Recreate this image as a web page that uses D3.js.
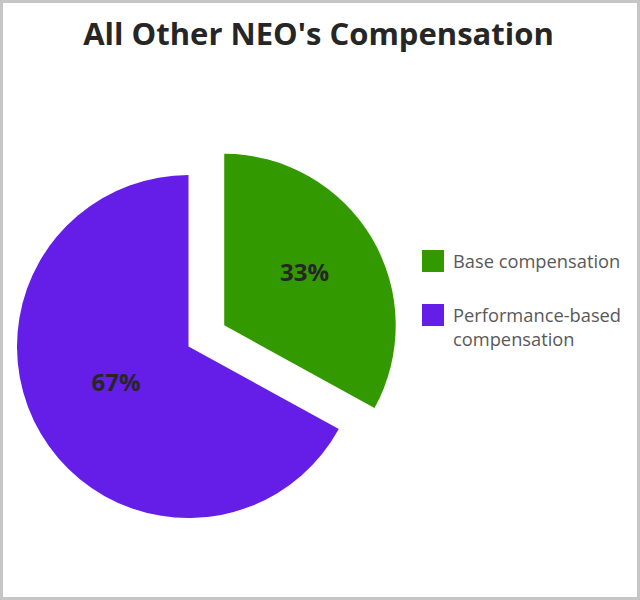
<!DOCTYPE html>
<html>
<head>
<meta charset="utf-8">
<script src="https://cdn.jsdelivr.net/npm/d3@7"></script>
<style>
  html, body { margin: 0; padding: 0; background: #fff; }
  svg { display: block; }
</style>
</head>
<body>
<script>
const title = "All Other NEO's Compensation";
const categories = ["Base compensation", "Performance-based compensation"];
const legendLines = [["Base compensation"], ["Performance-based", "compensation"]];
const values = [33, 67];
const labels = ["33%", "67%"];
const colors = ["#339900", "#651ee8"];

const W = 640, H = 600;
const svg = d3.select("body").append("svg").attr("width", W).attr("height", H);

// outer border
svg.append("rect").attr("x", 1.5).attr("y", 1.5).attr("width", W - 3).attr("height", H - 3)
  .attr("fill", "#fff").attr("stroke", "#c6c6c6").attr("stroke-width", 3);

svg.append("text").attr("x", 318.5).attr("y", 44.5).attr("text-anchor", "middle")
  .attr("font-family", "'Open Sans', sans-serif").attr("font-weight", "bold")
  .attr("font-size", 31).attr("fill", "#262626").text(title);

const cx = 188.5, cy = 346.5, R = 171.5;
const explode = [41.5, 0];
const labelR = [96.5, 80.7];
const labelShift = [-3 * Math.PI / 180, 4.5 * Math.PI / 180];

const pie = d3.pie().sort(null).value(d => d).startAngle(0).endAngle(2 * Math.PI);
const arcs = pie(values);
const arc = d3.arc().innerRadius(0).outerRadius(R);

const g = svg.append("g").attr("transform", `translate(${cx},${cy})`);
arcs.forEach((a, i) => {
  const mid = (a.startAngle + a.endAngle) / 2;
  const dx = Math.sin(mid) * explode[i], dy = -Math.cos(mid) * explode[i];
  const sg = g.append("g").attr("transform", `translate(${dx},${dy})`);
  sg.append("path").attr("d", arc(a)).attr("fill", colors[i]);
  const la = mid + labelShift[i];
  const lx = Math.sin(la) * labelR[i], ly = -Math.cos(la) * labelR[i];
  sg.append("text").attr("x", lx).attr("y", ly).attr("dy", "0.36em")
    .attr("text-anchor", "middle")
    .attr("font-family", "'Open Sans', sans-serif").attr("font-weight", "bold")
    .attr("font-size", 24).attr("fill", "#262626").text(labels[i]);
});

// legend
const leg = svg.append("g");
const legY = [250, 304];
categories.forEach((c, i) => {
  leg.append("rect").attr("x", 422).attr("y", legY[i]).attr("width", 22).attr("height", 22)
    .attr("fill", colors[i]);
  const t = leg.append("text").attr("x", 453).attr("y", legY[i] + 18)
    .attr("font-family", "'Open Sans', sans-serif").attr("font-size", 18.3).attr("fill", "#595959");
  legendLines[i].forEach((line, j) => {
    t.append("tspan").attr("x", 453).attr("dy", j === 0 ? 0 : 24).text(line);
  });
});
</script>
</body>
</html>
